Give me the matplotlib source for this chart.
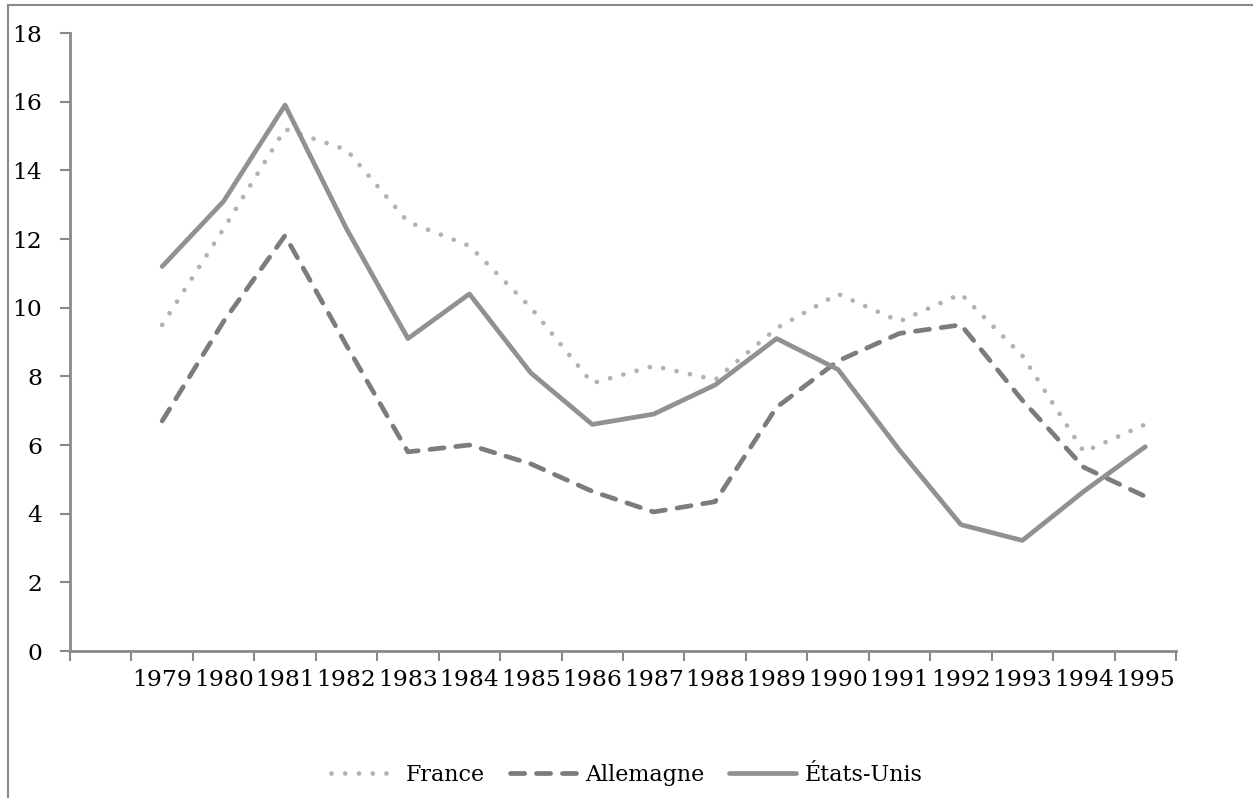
import numpy as np
import matplotlib
matplotlib.use('Agg')
from matplotlib import pyplot as plt
from matplotlib.patches import Rectangle

years = [str(y) for y in range(1979, 1996)]

france = [9.5, 12.3, 15.2, 14.6, 12.5, 11.8, 10.0, 7.8, 8.3, 7.9, 9.4, 10.4, 9.6, 10.4, 8.6, 5.8, 6.6]
allemagne = [6.7, 9.6, 12.1, 8.9, 5.8, 6.0, 5.45, 4.65, 4.05, 4.35, 7.1, 8.45, 9.25, 9.5, 7.3, 5.35, 4.5]
etats_unis = [11.2, 13.1, 15.9, 12.3, 9.1, 10.4, 8.1, 6.6, 6.9, 7.75, 9.1, 8.2, 5.85, 3.68, 3.22, 4.65, 5.95]

y_ticks = list(range(0, 19, 2))

plt.rcParams['font.family'] = ['DejaVu Serif']

fig = plt.figure(figsize=(12.53, 7.98), dpi=100)
ax = fig.add_axes([70/1253, 1 - 651/798, (1176 - 70)/1253, (651 - 33)/798])

# frame round the whole chart
fig.patches.append(Rectangle((8/1253, -0.05), 1.2, 1 - 5/798 + 0.05, transform=fig.transFigure,
                             fill=False, edgecolor='#8a8a8a', linewidth=1.5))

x = np.arange(len(years))
ax.plot(x, france, color='#b2b2b2', linewidth=3.4, dashes=(0.01, 2.9),
        dash_capstyle='round', label='France')
ax.plot(x, allemagne, color='#7c7c7c', linewidth=3.4, dashes=(3.0, 2.5),
        dash_capstyle='round', label='Allemagne')
ax.plot(x, etats_unis, color='#919191', linewidth=3.4, solid_capstyle='round',
        label='États-Unis')

ax.set_xlim(-1.5, len(years) - 0.5)
ax.set_ylim(0, 18)

# category boundaries get the tick marks, centres get the labels
ax.set_xticks(np.arange(-1.5, len(years)))
ax.set_xticklabels([])
ax.set_xticks(x, minor=True)
ax.set_xticklabels(years, minor=True, fontsize=16.8)
ax.tick_params(axis='x', which='major', direction='out', length=7, width=1.5, color='#8a8a8a')
ax.tick_params(axis='x', which='minor', length=0, pad=13)

ax.set_yticks(y_ticks)
ax.set_yticklabels([str(v) for v in y_ticks], fontsize=16.8)
ax.tick_params(axis='y', direction='out', length=7, width=1.5, color='#8a8a8a', pad=13)

for s in ['top', 'right']:
    ax.spines[s].set_visible(False)
for s in ['left', 'bottom']:
    ax.spines[s].set_color('#8a8a8a')
    ax.spines[s].set_linewidth(2)

fig.legend(loc='center', bbox_to_anchor=(0.5, 1 - 775/798), ncol=3, frameon=False,
           fontsize=16, handlelength=3.0, handletextpad=0.4, columnspacing=1.1)

fig.savefig('out.png', dpi=100)
